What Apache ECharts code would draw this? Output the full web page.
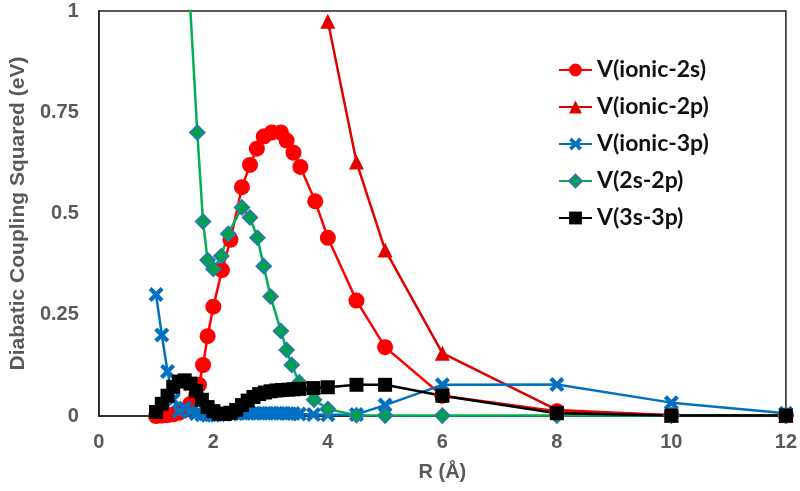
<!DOCTYPE html>
<html>
<head>
<meta charset="utf-8">
<script src="https://cdn.jsdelivr.net/npm/echarts@6/dist/echarts.min.js"></script>
<style>html,body{margin:0;padding:0;background:#fff}#c{width:800px;height:491px}</style>
</head>
<body>
<div id="c"></div>
<script>
// ---- data ----
const seriesNames = ['V(ionic-2s)', 'V(ionic-2p)', 'V(ionic-3p)', 'V(2s-2p)', 'V(3s-3p)'];

const rIonic2s = [1.0,1.1,1.2,1.3,1.4,1.5,1.6,1.7,1.75,1.82,1.9,2.0,2.15,2.3,2.5,2.64,2.76,2.88,3.02,3.18,3.28,3.4,3.52,3.78,4.0,4.5,5,6,8,10,12];
const vIonic2s = [0,0.001,0.002,0.004,0.008,0.015,0.03,0.05,0.077,0.126,0.197,0.27,0.36,0.435,0.565,0.62,0.66,0.69,0.70,0.70,0.68,0.65,0.615,0.53,0.44,0.285,0.17,0.05,0.012,0.002,0.001];

const rIonic2p = [4,4.5,5,6,8,10,12];
const vIonic2p = [0.975,0.627,0.41,0.155,0.015,0.002,0.001];

const rIonic3p = [1.0,1.1,1.2,1.3,1.4,1.5,1.6,1.7,1.8,1.9,2.0,2.1,2.2,2.3,2.4,2.5,2.6,2.7,2.8,2.9,3.0,3.1,3.2,3.3,3.4,3.5,3.75,4.0,4.5,5,6,8,10,12];
const vIonic3p = [0.30,0.20,0.11,0.04,0.012,0.02,0.012,0.006,0.003,0.002,0.002,0.003,0.004,0.005,0.006,0.007,0.007,0.007,0.007,0.007,0.007,0.007,0.007,0.006,0.006,0.005,0.004,0.003,0.004,0.027,0.077,0.078,0.033,0.007];

const r2s2p = [1.5,1.72,1.82,1.9,2.0,2.14,2.26,2.5,2.64,2.77,2.88,3.0,3.18,3.28,3.37,3.5,3.76,4.0,4.5,5,6,8,10,12];
const v2s2p = [1.25,0.70,0.48,0.385,0.363,0.395,0.45,0.515,0.49,0.44,0.37,0.295,0.21,0.163,0.126,0.083,0.04,0.017,0.002,0.001,0.001,0.001,0.001,0.001];

const r3s3p = [1.0,1.1,1.2,1.3,1.4,1.5,1.6,1.7,1.8,1.9,2.0,2.1,2.2,2.3,2.4,2.5,2.6,2.7,2.8,2.9,3.0,3.1,3.2,3.3,3.4,3.5,3.75,4.0,4.5,5,6,8,10,12];
const v3s3p = [0.01,0.03,0.05,0.072,0.085,0.088,0.08,0.062,0.04,0.022,0.012,0.006,0.005,0.008,0.015,0.027,0.038,0.047,0.054,0.058,0.061,0.063,0.064,0.065,0.066,0.067,0.069,0.071,0.077,0.077,0.05,0.007,0.001,0.001];

const xTicks = [0, 2, 4, 6, 8, 10, 12];
const yTicks = [0, 0.25, 0.5, 0.75, 1];

function zip(r, v) { return r.map((x, i) => [x, v[i]]); }

const crossPath = 'path://M2,0 L5,3 L8,0 L10,2 L7,5 L10,8 L8,10 L5,7 L2,10 L0,8 L3,5 L0,2 Z';
const gray = '#595959';
const axisFont = 'Liberation Sans, Arial, sans-serif';

const chart = echarts.init(document.getElementById('c'), null, {renderer: 'canvas'});
chart.setOption({
  animation: false,
  backgroundColor: '#fff',
  grid: { left: 93, right: 13, top: 11, bottom: 75, show: true, borderColor: '#222', borderWidth: 1.5, containLabel: false },
  legend: {
    orient: 'vertical', left: 553, top: 53, itemWidth: 33, itemHeight: 16, itemGap: 13,
    textStyle: { fontFamily: 'Lato, sans-serif', fontWeight: 'bold', fontSize: 23, color: '#111', lineHeight: 24 },
    data: seriesNames
  },
  xAxis: {
    type: 'value', min: xTicks[0], max: xTicks[xTicks.length - 1], interval: 2,
    name: 'R (Å)', nameLocation: 'middle', nameGap: 46,
    nameTextStyle: { fontFamily: axisFont, fontWeight: 'bold', fontSize: 20, color: gray },
    axisLine: { show: true, lineStyle: { color: '#222', width: 1.5 } },
    axisTick: { show: false }, splitLine: { show: false },
    axisLabel: { fontFamily: axisFont, fontWeight: 'bold', fontSize: 20, color: gray, margin: 16 }
  },
  yAxis: {
    type: 'value', min: yTicks[0], max: yTicks[yTicks.length - 1], interval: 0.25,
    name: 'Diabatic Coupling Squared (eV)', nameLocation: 'middle', nameGap: 66,
    nameTextStyle: { fontFamily: axisFont, fontWeight: 'bold', fontSize: 21, color: gray },
    axisLine: { show: true, lineStyle: { color: '#222', width: 1.5 } },
    axisTick: { show: false }, splitLine: { show: false },
    axisLabel: { fontFamily: axisFont, fontWeight: 'bold', fontSize: 20, color: gray, margin: 20 }
  },
  series: [
    { name: seriesNames[0], type: 'line', data: zip(rIonic2s, vIonic2s), symbol: 'circle', symbolSize: 16,
      lineStyle: { color: '#ff0000', width: 2.5 }, itemStyle: { color: '#ff0000' }, clip: true },
    { name: seriesNames[1], type: 'line', data: zip(rIonic2p, vIonic2p), symbol: 'triangle', symbolSize: 15,
      lineStyle: { color: '#e00000', width: 2.5 }, itemStyle: { color: '#e00000' }, clip: true },
    { name: seriesNames[2], type: 'line', data: zip(rIonic3p, vIonic3p), symbol: crossPath, symbolSize: 15,
      lineStyle: { color: '#0070c0', width: 2.5 }, itemStyle: { color: '#0070c0' }, clip: true },
    { name: seriesNames[3], type: 'line', data: zip(r2s2p, v2s2p), symbol: 'diamond', symbolSize: 15,
      lineStyle: { color: '#00b050', width: 2.5 }, itemStyle: { color: '#00a050', borderColor: '#2e75b6', borderWidth: 1.5 }, clip: true },
    { name: seriesNames[4], type: 'line', data: zip(r3s3p, v3s3p), symbol: 'rect', symbolSize: 14,
      lineStyle: { color: '#000', width: 2.5 }, itemStyle: { color: '#000' }, clip: true }
  ]
});
</script>
</body>
</html>
